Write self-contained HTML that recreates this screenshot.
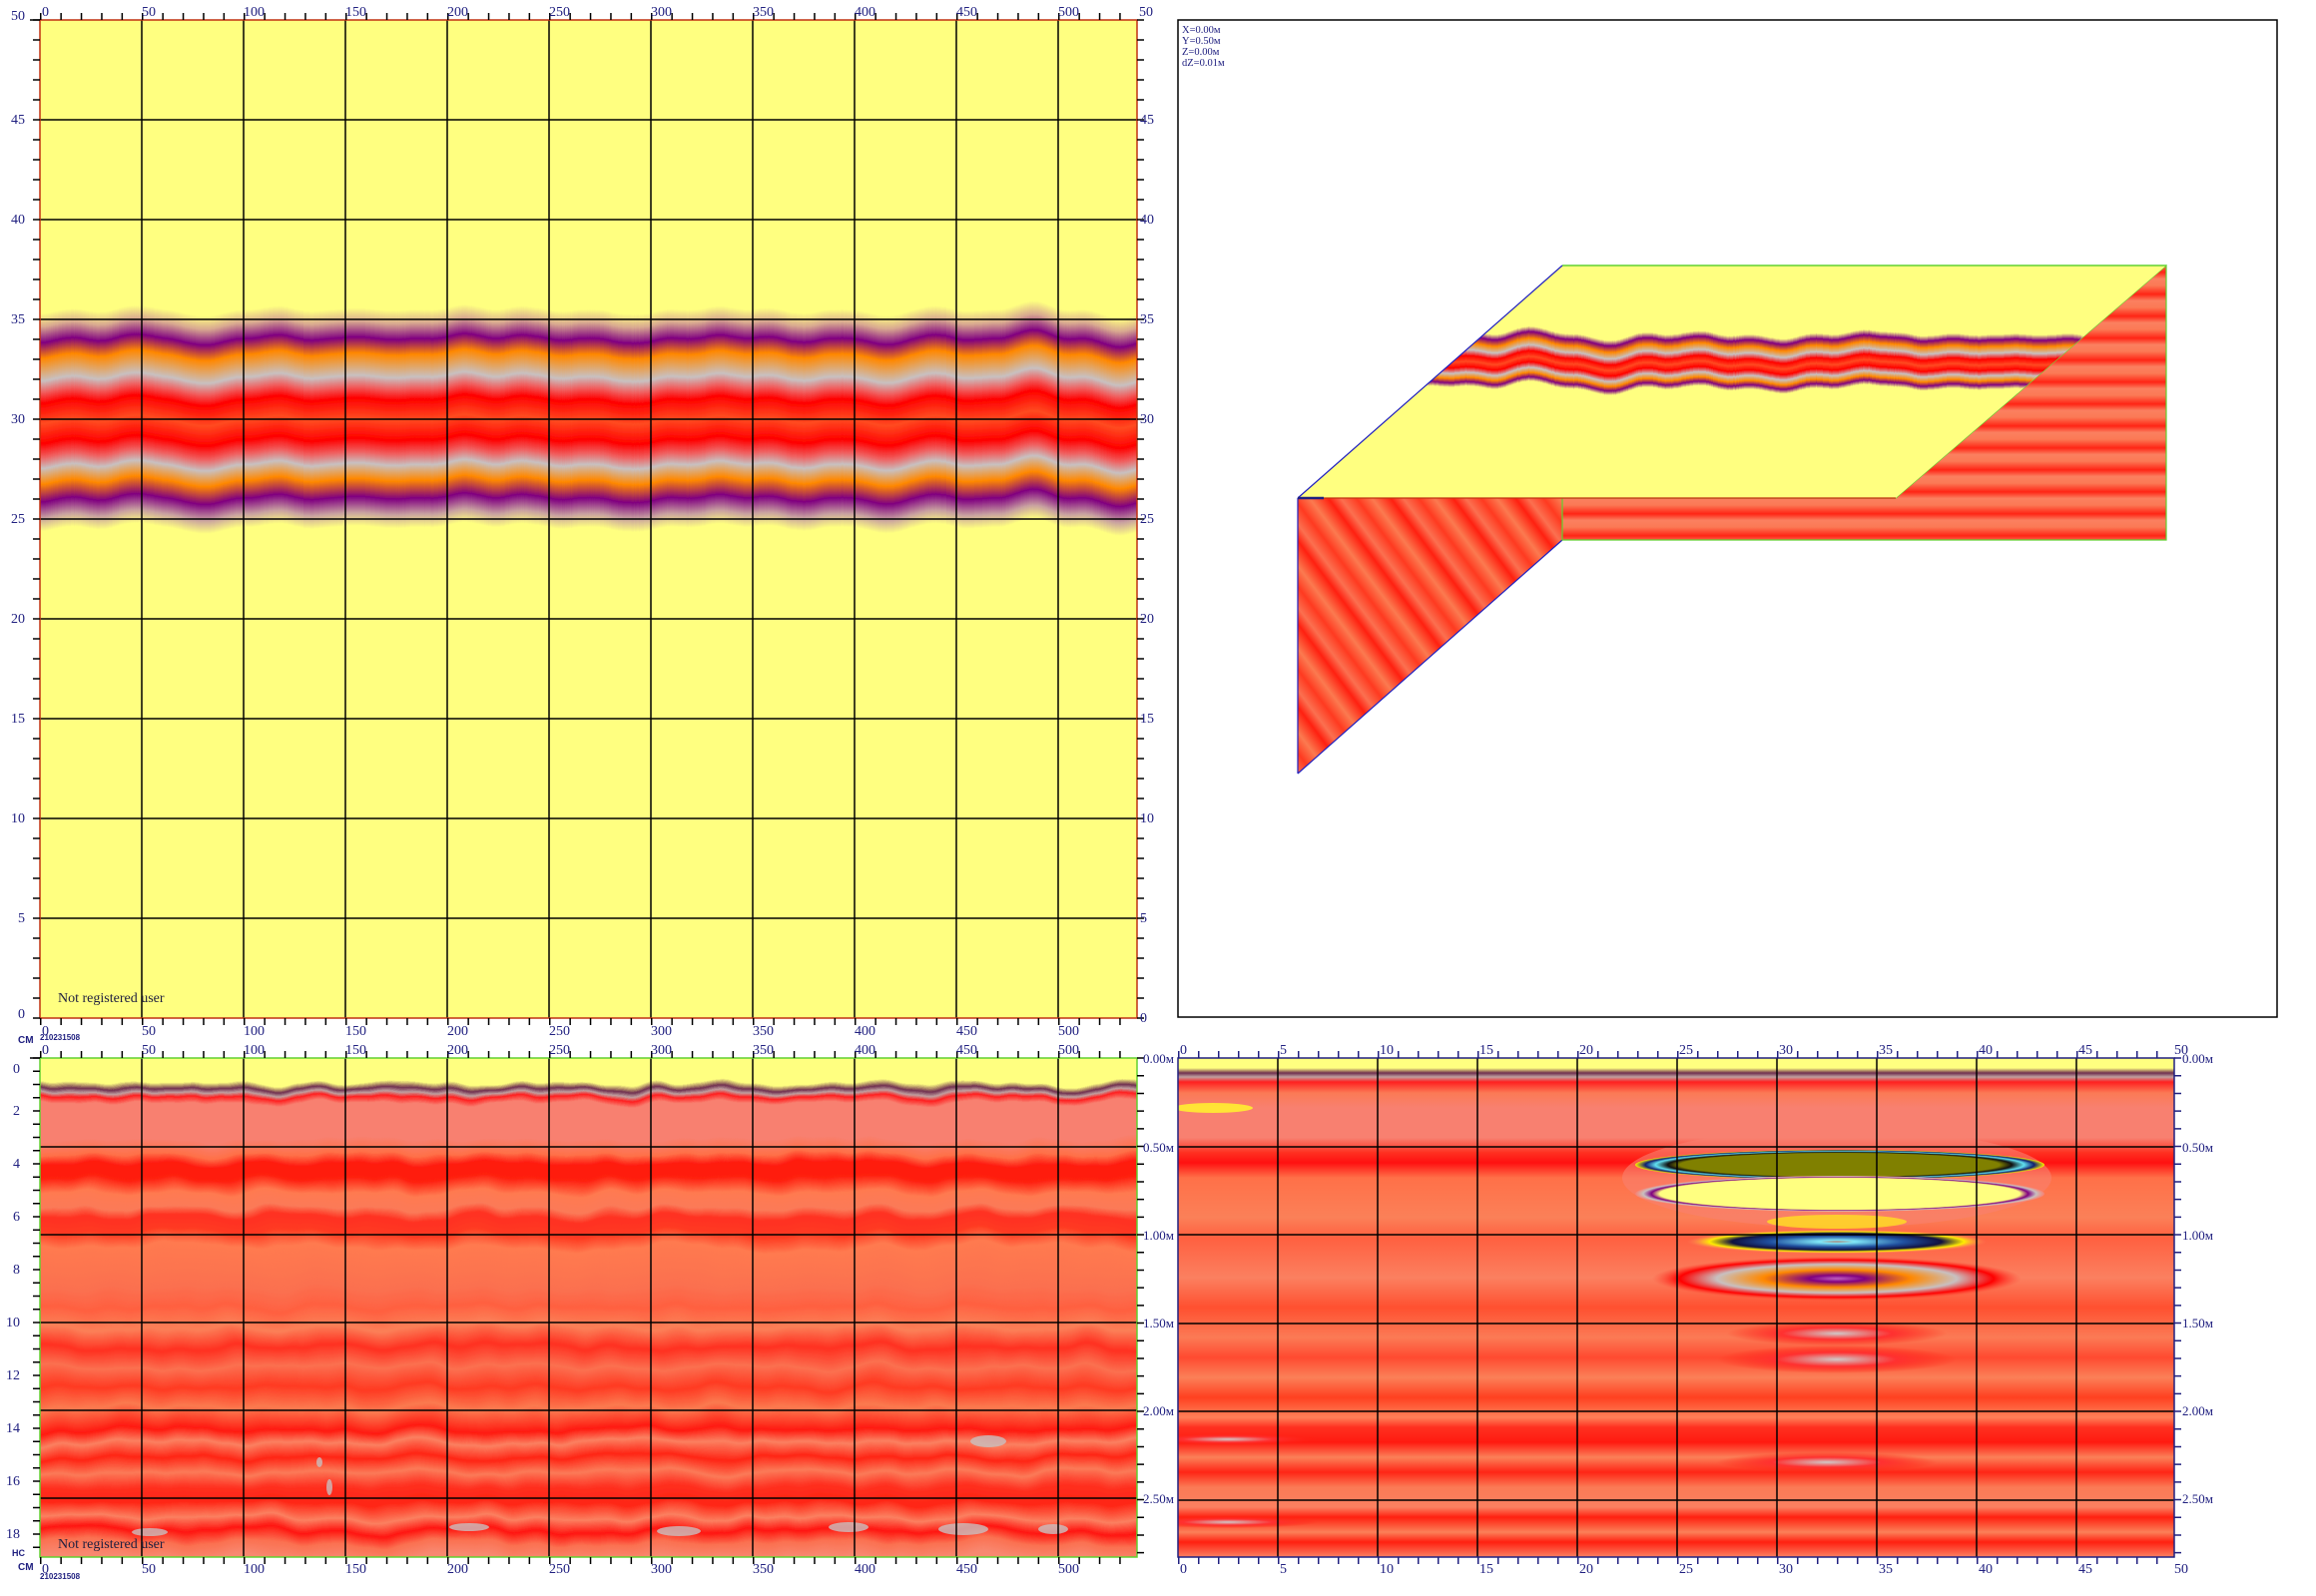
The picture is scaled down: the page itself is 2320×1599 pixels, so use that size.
<!DOCTYPE html>
<html><head><meta charset="utf-8"><style>
html,body{margin:0;padding:0;background:#fff}
svg{display:block}
text{font-family:"Liberation Serif",serif;fill:#202080}
</style></head><body>
<svg width="2320" height="1599" viewBox="0 0 2320 1599" xmlns="http://www.w3.org/2000/svg">
<defs>
<filter id="wave" x="-5%" y="-30%" width="110%" height="160%">
<feTurbulence type="fractalNoise" baseFrequency="0.012 0" numOctaves="2" seed="3" result="n"/>
<feDisplacementMap in="SourceGraphic" in2="n" scale="40" xChannelSelector="R" yChannelSelector="G"/>
</filter>
<filter id="wave2" x="0" y="0" width="100%" height="100%">
<feTurbulence type="fractalNoise" baseFrequency="0.02 0.01" numOctaves="2" seed="7" result="n"/>
<feDisplacementMap in="SourceGraphic" in2="n" scale="18" xChannelSelector="R" yChannelSelector="G"/>
</filter>
<linearGradient id="band" x1="0" y1="310" x2="0" y2="535" gradientUnits="userSpaceOnUse">
<stop offset="0" stop-color="#ffff80"/>
<stop offset="0.06" stop-color="#d8a890"/>
<stop offset="0.13" stop-color="#800080"/>
<stop offset="0.2" stop-color="#ff8800"/>
<stop offset="0.3" stop-color="#c8c0c0"/>
<stop offset="0.35" stop-color="#f06060"/>
<stop offset="0.4" stop-color="#ff0000"/>
<stop offset="0.49" stop-color="#ff4a20"/>
<stop offset="0.58" stop-color="#ff0000"/>
<stop offset="0.64" stop-color="#f06060"/>
<stop offset="0.69" stop-color="#c8c0c0"/>
<stop offset="0.76" stop-color="#ff8800"/>
<stop offset="0.84" stop-color="#800080"/>
<stop offset="0.91" stop-color="#c8a0a0"/>
<stop offset="0.97" stop-color="#ffff80"/>
</linearGradient>
<linearGradient id="bl" x1="0" y1="1060" x2="0" y2="1560" gradientUnits="userSpaceOnUse">
<stop offset="0" stop-color="#ffff80"/>
<stop offset="0.05" stop-color="#ffff80"/>
<stop offset="0.062" stop-color="#703050"/>
<stop offset="0.07" stop-color="#c0a0a0"/>
<stop offset="0.078" stop-color="#ff2020"/>
<stop offset="0.09" stop-color="#f88070"/>
<stop offset="0.16" stop-color="#f88070"/>
<stop offset="0.19" stop-color="#ff7048"/>
<stop offset="0.21" stop-color="#ff1a10"/>
<stop offset="0.24" stop-color="#ff2010"/>
<stop offset="0.27" stop-color="#ff7a50"/>
<stop offset="0.3" stop-color="#fb7a58"/>
<stop offset="0.32" stop-color="#ff3020"/>
<stop offset="0.35" stop-color="#ff3a20"/>
<stop offset="0.38" stop-color="#ff7a50"/>
<stop offset="0.46" stop-color="#fb7050"/>
<stop offset="0.5" stop-color="#ff6040"/>
<stop offset="0.54" stop-color="#fb8058"/>
<stop offset="0.58" stop-color="#ff3020"/>
<stop offset="0.62" stop-color="#fb7050"/>
<stop offset="0.66" stop-color="#ff3a22"/>
<stop offset="0.7" stop-color="#fb7a50"/>
<stop offset="0.745" stop-color="#ff1a10"/>
<stop offset="0.77" stop-color="#fb8060"/>
<stop offset="0.8" stop-color="#ff2515"/>
<stop offset="0.83" stop-color="#fb7a58"/>
<stop offset="0.86" stop-color="#ff3020"/>
<stop offset="0.89" stop-color="#ff2515"/>
<stop offset="0.92" stop-color="#fb8060"/>
<stop offset="0.945" stop-color="#ff1510"/>
<stop offset="0.97" stop-color="#fb7050"/>
<stop offset="1" stop-color="#f88870"/>
</linearGradient>
<linearGradient id="br" x1="0" y1="1060" x2="0" y2="1560" gradientUnits="userSpaceOnUse">
<stop offset="0" stop-color="#ffff80"/>
<stop offset="0.02" stop-color="#ffff80"/>
<stop offset="0.03" stop-color="#703050"/>
<stop offset="0.038" stop-color="#c0a0a0"/>
<stop offset="0.048" stop-color="#ff2020"/>
<stop offset="0.07" stop-color="#fb7a55"/>
<stop offset="0.1" stop-color="#f88070"/>
<stop offset="0.16" stop-color="#f88070"/>
<stop offset="0.19" stop-color="#ff3020"/>
<stop offset="0.21" stop-color="#ff1010"/>
<stop offset="0.24" stop-color="#ff7048"/>
<stop offset="0.32" stop-color="#fb8058"/>
<stop offset="0.36" stop-color="#ff6040"/>
<stop offset="0.44" stop-color="#fb8060"/>
<stop offset="0.5" stop-color="#ff5030"/>
<stop offset="0.56" stop-color="#fb7a55"/>
<stop offset="0.6" stop-color="#ff4a30"/>
<stop offset="0.64" stop-color="#fb8058"/>
<stop offset="0.68" stop-color="#ff4020"/>
<stop offset="0.72" stop-color="#ff8058"/>
<stop offset="0.74" stop-color="#ff3020"/>
<stop offset="0.77" stop-color="#ff1a10"/>
<stop offset="0.8" stop-color="#fb8058"/>
<stop offset="0.83" stop-color="#ff2515"/>
<stop offset="0.86" stop-color="#fb7a55"/>
<stop offset="0.9" stop-color="#fb8060"/>
<stop offset="0.92" stop-color="#ff2010"/>
<stop offset="0.95" stop-color="#fb8058"/>
<stop offset="0.97" stop-color="#ff2010"/>
<stop offset="1" stop-color="#fb8060"/>
</linearGradient>
<linearGradient id="diag" x1="0" y1="0" x2="40" y2="-30" gradientUnits="userSpaceOnUse" spreadMethod="repeat">
<stop offset="0" stop-color="#fb7a50"/>
<stop offset="0.3" stop-color="#ff2010"/>
<stop offset="0.5" stop-color="#fb7050"/>
<stop offset="0.75" stop-color="#ff3a20"/>
<stop offset="1" stop-color="#fb7a50"/>
</linearGradient>
<linearGradient id="hstr" x1="0" y1="0" x2="0" y2="22" gradientUnits="userSpaceOnUse" spreadMethod="repeat">
<stop offset="0" stop-color="#fb7a55"/>
<stop offset="0.4" stop-color="#ff2515"/>
<stop offset="0.7" stop-color="#fb8060"/>
<stop offset="1" stop-color="#fb7a55"/>
</linearGradient>
<linearGradient id="band3" x1="0" y1="335" x2="0" y2="390" gradientUnits="userSpaceOnUse">
<stop offset="0" stop-color="#ffff80"/>
<stop offset="0.1" stop-color="#800080"/>
<stop offset="0.22" stop-color="#ff8800"/>
<stop offset="0.34" stop-color="#c8c0c0"/>
<stop offset="0.45" stop-color="#ff0000"/>
<stop offset="0.55" stop-color="#ff4a20"/>
<stop offset="0.65" stop-color="#ff0000"/>
<stop offset="0.75" stop-color="#c8c0c0"/>
<stop offset="0.84" stop-color="#ff8800"/>
<stop offset="0.92" stop-color="#800080"/>
<stop offset="1" stop-color="#ffff80"/>
</linearGradient>
<radialGradient id="oliveE">
<stop offset="0" stop-color="#808000"/><stop offset="0.78" stop-color="#808000"/>
<stop offset="0.84" stop-color="#101010"/><stop offset="0.9" stop-color="#60e0f0"/>
<stop offset="0.95" stop-color="#102070"/><stop offset="1" stop-color="#ffee00"/>
</radialGradient>
<radialGradient id="yelE">
<stop offset="0" stop-color="#ffff80"/><stop offset="0.88" stop-color="#ffff80"/>
<stop offset="0.92" stop-color="#800080"/><stop offset="0.96" stop-color="#c8c0c0"/>
<stop offset="1" stop-color="#f88070"/>
</radialGradient>
<radialGradient id="blueE">
<stop offset="0" stop-color="#b08070"/><stop offset="0.12" stop-color="#80e8f8"/>
<stop offset="0.45" stop-color="#2050a0"/><stop offset="0.7" stop-color="#101040"/>
<stop offset="0.85" stop-color="#ffee00"/><stop offset="1" stop-color="#f88070" stop-opacity="0"/>
</radialGradient>
<radialGradient id="purE">
<stop offset="0" stop-color="#c060c0"/><stop offset="0.15" stop-color="#800080"/>
<stop offset="0.4" stop-color="#ff8800"/><stop offset="0.65" stop-color="#c8c0c0"/>
<stop offset="0.85" stop-color="#ff0000"/><stop offset="1" stop-color="#ff4030" stop-opacity="0"/>
</radialGradient>
<radialGradient id="greyE">
<stop offset="0" stop-color="#d0c8c8"/><stop offset="0.5" stop-color="#ff3030"/>
<stop offset="1" stop-color="#ff2010" stop-opacity="0"/>
</radialGradient>
<clipPath id="topface"><polygon points="1300,499 1565,266 2170,266 1899,499"/></clipPath>
<clipPath id="tlclip"><rect x="40" y="20" width="1099" height="1000"/></clipPath>
<clipPath id="blclip"><rect x="40" y="1060" width="1099" height="500"/></clipPath>
<clipPath id="brclip"><rect x="1180" y="1060" width="998" height="500"/></clipPath>
</defs>

<!-- ========== TOP LEFT ========== -->
<rect x="40" y="20" width="1099" height="1000" fill="#ffff80"/>
<g clip-path="url(#tlclip)">
<rect x="0" y="300" width="1200" height="245" fill="url(#band)" filter="url(#wave)"/>
</g>
<g stroke="#000" stroke-width="1.5">
<line x1="142" y1="20" x2="142" y2="1020"/><line x1="244" y1="20" x2="244" y2="1020"/>
<line x1="346" y1="20" x2="346" y2="1020"/><line x1="448" y1="20" x2="448" y2="1020"/>
<line x1="550" y1="20" x2="550" y2="1020"/><line x1="652" y1="20" x2="652" y2="1020"/>
<line x1="754" y1="20" x2="754" y2="1020"/><line x1="856" y1="20" x2="856" y2="1020"/>
<line x1="958" y1="20" x2="958" y2="1020"/><line x1="1060" y1="20" x2="1060" y2="1020"/>
<line x1="40" y1="120" x2="1139" y2="120"/><line x1="40" y1="220" x2="1139" y2="220"/>
<line x1="40" y1="320" x2="1139" y2="320"/><line x1="40" y1="420" x2="1139" y2="420"/>
<line x1="40" y1="520" x2="1139" y2="520"/><line x1="40" y1="620" x2="1139" y2="620"/>
<line x1="40" y1="720" x2="1139" y2="720"/><line x1="40" y1="820" x2="1139" y2="820"/>
<line x1="40" y1="920" x2="1139" y2="920"/>
</g>
<rect x="40" y="20" width="1099" height="1000" fill="none" stroke="#c03010" stroke-width="1.5"/>
<g stroke="#000" fill="none">
<line x1="40" y1="16.5" x2="1139" y2="16.5" stroke-width="7" stroke-dasharray="1.5 18.9"/>
<line x1="40" y1="1023.5" x2="1139" y2="1023.5" stroke-width="7" stroke-dasharray="1.5 18.9"/>
<line x1="36.5" y1="19.3" x2="36.5" y2="1021" stroke-width="7" stroke-dasharray="1.5 18.5"/>
<line x1="1142.5" y1="19.3" x2="1142.5" y2="1021" stroke-width="7" stroke-dasharray="1.5 18.5"/>
<line x1="30" y1="20" x2="40" y2="20" stroke-width="1.5"/>
</g>
<g font-size="14">
<text x="42" y="16">0</text><text x="142" y="16">50</text><text x="244" y="16">100</text><text x="346" y="16">150</text><text x="448" y="16">200</text><text x="550" y="16">250</text><text x="652" y="16">300</text><text x="754" y="16">350</text><text x="856" y="16">400</text><text x="958" y="16">450</text><text x="1060" y="16">500</text><text x="1141" y="16">50</text>
<text x="42" y="1037">0</text><text x="142" y="1037">50</text><text x="244" y="1037">100</text><text x="346" y="1037">150</text><text x="448" y="1037">200</text><text x="550" y="1037">250</text><text x="652" y="1037">300</text><text x="754" y="1037">350</text><text x="856" y="1037">400</text><text x="958" y="1037">450</text><text x="1060" y="1037">500</text>
</g>
<g font-size="14" text-anchor="end">
<text x="25" y="20">50</text><text x="25" y="124">45</text><text x="25" y="224">40</text><text x="25" y="324">35</text><text x="25" y="424">30</text><text x="25" y="524">25</text><text x="25" y="624">20</text><text x="25" y="724">15</text><text x="25" y="824">10</text><text x="25" y="924">5</text><text x="25" y="1020">0</text>
</g>
<g font-size="14">
<text x="1142" y="124">45</text><text x="1142" y="224">40</text><text x="1142" y="324">35</text><text x="1142" y="424">30</text><text x="1142" y="524">25</text><text x="1142" y="624">20</text><text x="1142" y="724">15</text><text x="1142" y="824">10</text><text x="1142" y="924">5</text><text x="1142" y="1024">0</text>
</g>
<text x="58" y="1004" font-size="14" style="fill:#202040">Not registered user</text>
<text x="18" y="1045" font-size="10" font-weight="bold" style="font-family:'Liberation Sans',sans-serif">CM</text>
<text x="40" y="1042" font-size="8" font-weight="bold" style="font-family:'Liberation Sans',sans-serif">210231508</text>

<!-- ========== BOTTOM LEFT ========== -->
<g clip-path="url(#blclip)">
<rect x="30" y="1050" width="1120" height="520" fill="url(#bl)" filter="url(#wave2)"/>
<g fill="#c8c0c0" opacity="0.8">
<ellipse cx="990" cy="1444" rx="18" ry="6"/><ellipse cx="470" cy="1530" rx="20" ry="4"/><ellipse cx="680" cy="1534" rx="22" ry="5"/>
<ellipse cx="850" cy="1530" rx="20" ry="5"/><ellipse cx="965" cy="1532" rx="25" ry="6"/><ellipse cx="1055" cy="1532" rx="15" ry="5"/>
<ellipse cx="330" cy="1490" rx="3" ry="8"/><ellipse cx="320" cy="1465" rx="3" ry="5"/><ellipse cx="150" cy="1535" rx="18" ry="4"/>
</g>
</g>
<g stroke="#000" stroke-width="1.5">
<line x1="142" y1="1060" x2="142" y2="1560"/><line x1="244" y1="1060" x2="244" y2="1560"/>
<line x1="346" y1="1060" x2="346" y2="1560"/><line x1="448" y1="1060" x2="448" y2="1560"/>
<line x1="550" y1="1060" x2="550" y2="1560"/><line x1="652" y1="1060" x2="652" y2="1560"/>
<line x1="754" y1="1060" x2="754" y2="1560"/><line x1="856" y1="1060" x2="856" y2="1560"/>
<line x1="958" y1="1060" x2="958" y2="1560"/><line x1="1060" y1="1060" x2="1060" y2="1560"/>
<line x1="40" y1="1149" x2="1139" y2="1149"/><line x1="40" y1="1237" x2="1139" y2="1237"/>
<line x1="40" y1="1325" x2="1139" y2="1325"/><line x1="40" y1="1413" x2="1139" y2="1413"/>
<line x1="40" y1="1501" x2="1139" y2="1501"/>
</g>
<rect x="40" y="1060" width="1099" height="500" fill="none" stroke="#60d030" stroke-width="1.5"/>
<g stroke="#000" fill="none">
<line x1="40" y1="1056.5" x2="1139" y2="1056.5" stroke-width="7" stroke-dasharray="1.5 18.9"/>
<line x1="40" y1="1563.5" x2="1139" y2="1563.5" stroke-width="7" stroke-dasharray="1.5 18.9"/>
<line x1="36.5" y1="1059.3" x2="36.5" y2="1561" stroke-width="7" stroke-dasharray="1.5 11.75"/>
<line x1="1142.5" y1="1059.3" x2="1142.5" y2="1561" stroke-width="7" stroke-dasharray="1.5 16.2"/>
<line x1="30" y1="1060" x2="40" y2="1060" stroke-width="1.5"/>
</g>
<g font-size="14">
<text x="42" y="1056">0</text><text x="142" y="1056">50</text><text x="244" y="1056">100</text><text x="346" y="1056">150</text><text x="448" y="1056">200</text><text x="550" y="1056">250</text><text x="652" y="1056">300</text><text x="754" y="1056">350</text><text x="856" y="1056">400</text><text x="958" y="1056">450</text><text x="1060" y="1056">500</text>
<text x="42" y="1576">0</text><text x="142" y="1576">50</text><text x="244" y="1576">100</text><text x="346" y="1576">150</text><text x="448" y="1576">200</text><text x="550" y="1576">250</text><text x="652" y="1576">300</text><text x="754" y="1576">350</text><text x="856" y="1576">400</text><text x="958" y="1576">450</text><text x="1060" y="1576">500</text>
</g>
<g font-size="14" text-anchor="end">
<text x="20" y="1075">0</text><text x="20" y="1117">2</text><text x="20" y="1170">4</text><text x="20" y="1223">6</text><text x="20" y="1276">8</text><text x="20" y="1329">10</text><text x="20" y="1382">12</text><text x="20" y="1435">14</text><text x="20" y="1488">16</text><text x="20" y="1541">18</text>
</g>
<g font-size="13">
<text x="1145" y="1065">0.00м</text><text x="1145" y="1154">0.50м</text><text x="1145" y="1242">1.00м</text><text x="1145" y="1330">1.50м</text><text x="1145" y="1418">2.00м</text><text x="1145" y="1506">2.50м</text>
</g>
<text x="58" y="1551" font-size="14" style="fill:#202040">Not registered user</text>
<text x="12" y="1559" font-size="9" font-weight="bold" style="font-family:'Liberation Sans',sans-serif">HC</text>
<text x="18" y="1573" font-size="10" font-weight="bold" style="font-family:'Liberation Sans',sans-serif">CM</text>
<text x="40" y="1582" font-size="8" font-weight="bold" style="font-family:'Liberation Sans',sans-serif">210231508</text>

<!-- ========== BOTTOM RIGHT ========== -->
<g clip-path="url(#brclip)">
<rect x="1180" y="1060" width="998" height="500" fill="url(#br)"/>
<ellipse cx="1215" cy="1110" rx="40" ry="5" fill="#ffee30" opacity="0.9"/>
<ellipse cx="1840" cy="1180" rx="215" ry="50" fill="#f88070" opacity="0.6"/>
<ellipse cx="1843" cy="1167" rx="205" ry="15" fill="url(#oliveE)"/>
<ellipse cx="1843" cy="1196" rx="205" ry="18" fill="url(#yelE)"/>
<ellipse cx="1840" cy="1224" rx="70" ry="7" fill="#ffe020" opacity="0.8"/>
<ellipse cx="1840" cy="1244" rx="150" ry="12" fill="url(#blueE)"/>
<ellipse cx="1840" cy="1281" rx="185" ry="22" fill="url(#purE)"/>
<ellipse cx="1840" cy="1336" rx="110" ry="12" fill="url(#greyE)"/>
<ellipse cx="1840" cy="1362" rx="120" ry="14" fill="url(#greyE)"/>
<ellipse cx="1830" cy="1465" rx="110" ry="10" fill="url(#greyE)"/>
<ellipse cx="1230" cy="1442" rx="90" ry="6" fill="url(#greyE)"/>
<ellipse cx="1230" cy="1525" rx="90" ry="6" fill="url(#greyE)"/>
</g>
<g stroke="#000" stroke-width="1.5">
<line x1="1280" y1="1060" x2="1280" y2="1560"/><line x1="1380" y1="1060" x2="1380" y2="1560"/>
<line x1="1480" y1="1060" x2="1480" y2="1560"/><line x1="1580" y1="1060" x2="1580" y2="1560"/>
<line x1="1680" y1="1060" x2="1680" y2="1560"/><line x1="1780" y1="1060" x2="1780" y2="1560"/>
<line x1="1880" y1="1060" x2="1880" y2="1560"/><line x1="1980" y1="1060" x2="1980" y2="1560"/>
<line x1="2080" y1="1060" x2="2080" y2="1560"/>
<line x1="1180" y1="1149" x2="2178" y2="1149"/><line x1="1180" y1="1237" x2="2178" y2="1237"/>
<line x1="1180" y1="1326" x2="2178" y2="1326"/><line x1="1180" y1="1414" x2="2178" y2="1414"/>
<line x1="1180" y1="1503" x2="2178" y2="1503"/>
</g>
<rect x="1180" y="1060" width="998" height="500" fill="none" stroke="#202080" stroke-width="1.5"/>
<g stroke="#202080" fill="none">
<line x1="1180" y1="1056.5" x2="2180" y2="1056.5" stroke-width="7" stroke-dasharray="1.5 18.5"/>
<line x1="1180" y1="1563.5" x2="2180" y2="1563.5" stroke-width="7" stroke-dasharray="1.5 18.5"/>
<line x1="2181.5" y1="1059.3" x2="2181.5" y2="1561" stroke-width="7" stroke-dasharray="1.5 16.2"/>
</g>
<g font-size="14">
<text x="1182" y="1056">0</text><text x="1282" y="1056">5</text><text x="1382" y="1056">10</text><text x="1482" y="1056">15</text><text x="1582" y="1056">20</text><text x="1682" y="1056">25</text><text x="1782" y="1056">30</text><text x="1882" y="1056">35</text><text x="1982" y="1056">40</text><text x="2082" y="1056">45</text><text x="2178" y="1056">50</text>
<text x="1182" y="1576">0</text><text x="1282" y="1576">5</text><text x="1382" y="1576">10</text><text x="1482" y="1576">15</text><text x="1582" y="1576">20</text><text x="1682" y="1576">25</text><text x="1782" y="1576">30</text><text x="1882" y="1576">35</text><text x="1982" y="1576">40</text><text x="2082" y="1576">45</text><text x="2178" y="1576">50</text>
</g>
<g font-size="13">
<text x="2186" y="1065">0.00м</text><text x="2186" y="1154">0.50м</text><text x="2186" y="1242">1.00м</text><text x="2186" y="1330">1.50м</text><text x="2186" y="1418">2.00м</text><text x="2186" y="1506">2.50м</text>
</g>

<!-- ========== TOP RIGHT 3D ========== -->
<rect x="1180" y="20" width="1101" height="999" fill="#fff" stroke="#000" stroke-width="1.5"/>
<g font-size="10.5">
<text x="1184" y="33">X=0.00м</text><text x="1184" y="44">Y=0.50м</text><text x="1184" y="55">Z=0.00м</text><text x="1184" y="66">dZ=0.01м</text>
</g>
<polygon points="1300,499 1565,499 1565,541 1300,775" fill="url(#diag)"/>
<line x1="1300" y1="775" x2="1565" y2="541" stroke="#2020c0" stroke-width="1.2"/>
<line x1="1300" y1="499" x2="1300" y2="775" stroke="#2020c0" stroke-width="1.2"/>
<polygon points="1565,499 1899,499 2170,266 2170,541 1565,541" fill="url(#hstr)" stroke="#60d030" stroke-width="1.2"/>
<polygon points="1300,499 1565,266 2170,266 1899,499" fill="#ffff80"/>
<g clip-path="url(#topface)">
<rect x="1280" y="330" width="940" height="65" fill="url(#band3)" filter="url(#wave)"/>
</g>
<line x1="1565" y1="266" x2="2170" y2="266" stroke="#60d030" stroke-width="1.5"/>
<line x1="1300" y1="499" x2="1565" y2="266" stroke="#2020c0" stroke-width="1.2"/>
<line x1="1300" y1="499" x2="1899" y2="499" stroke="#c03010" stroke-width="1.2"/>
<line x1="1300" y1="499" x2="1326" y2="499" stroke="#202080" stroke-width="2.5"/>
</svg>
</body></html>
